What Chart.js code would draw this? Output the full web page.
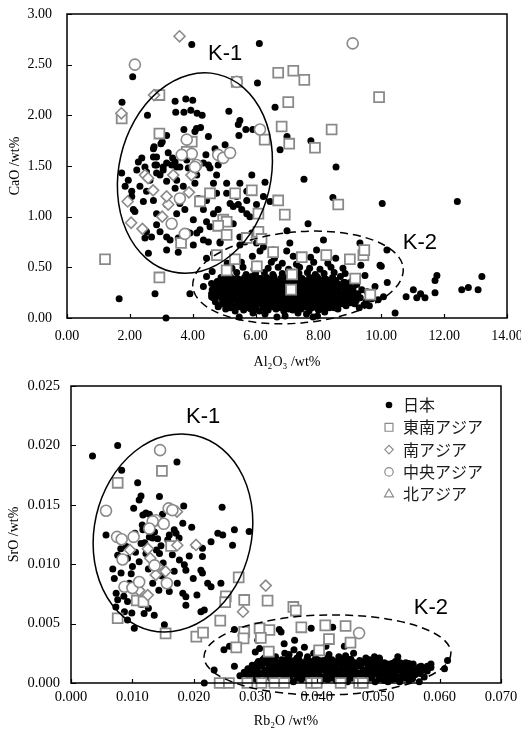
<!DOCTYPE html>
<html><head><meta charset="utf-8">
<script src="https://cdn.jsdelivr.net/npm/chart.js@4.4.1/dist/chart.umd.min.js"></script>
<style>html,body{margin:0;padding:0;background:#fff;}canvas{display:block;}</style>
</head><body>
<canvas id="c1" width="521" height="375"></canvas>
<canvas id="c2" width="521" height="355"></canvas>
<script>
// ---------- series names ----------
const seriesNames = ['日本', '東南アジア', '南アジア', '中央アジア', '北アジア'];

// ---------- top chart: Al2O3 (x) vs CaO (y), wt% ----------
const xTicksTop = [0, 2, 4, 6, 8, 10, 12, 14];
const yTicksTop = [0, 0.5, 1, 1.5, 2, 2.5, 3];

const japanAlCa = [
[3.97,2.70],[6.12,2.71],[2.09,2.38],[1.75,2.13],[2.56,2.00],[3.44,2.14],[3.78,2.16],[4.00,2.15],[3.46,2.03],[3.72,2.03],
[3.94,2.05],[4.14,2.02],[4.30,2.00],[5.15,2.04],[5.50,1.95],[5.45,1.91],[5.69,1.86],[5.91,1.86],[5.47,1.80],[6.06,2.32],
[6.62,2.08],[6.78,1.66],[3.72,1.86],[4.07,1.84],[4.25,1.88],[3.17,1.80],[4.50,1.79],[2.99,1.72],[2.75,1.67],[2.85,1.59],
[3.22,1.63],[2.38,1.58],[3.36,1.58],[4.71,1.67],[5.03,1.71],[4.42,1.61],[4.81,1.51],[4.50,1.51],[2.22,1.46],[2.48,1.49],
[3.06,1.49],[3.49,1.49],[3.86,1.48],[7.00,1.79],[7.76,1.75],[8.56,1.49],[7.54,1.37],
[2.27,1.54],[2.85,1.51],[3.17,1.53],[3.44,1.54],[3.81,1.56],[4.34,1.53],[4.55,1.48],[4.13,1.41],[4.76,1.41],[4.07,1.33],
[2.96,1.41],[3.17,1.35],[3.49,1.36],[2.64,1.36],[2.32,1.30],[2.06,1.25],[2.53,1.25],[3.44,1.28],[3.70,1.30],[4.66,1.33],
[4.76,1.23],[4.44,1.16],[5.08,1.23],[4.18,1.18],[3.59,1.13],[3.17,1.12],[2.75,1.16],[2.43,1.15],[2.06,1.20],[2.85,1.03],
[3.49,1.03],[3.75,1.07],[4.02,0.97],[4.34,1.07],[4.44,0.95],[4.81,1.07],[5.29,1.10],[5.56,1.07],[5.72,1.03],[6.03,1.12],
[5.29,0.93],[2.85,0.92],[2.53,0.85],[2.96,0.85],[3.17,0.80],[2.69,0.80],[2.48,0.79],[3.28,0.77],[3.54,0.79],[3.81,0.85],
[4.13,0.84],[4.34,0.77],[4.50,0.75],[3.54,0.65],[3.17,0.67],[2.59,0.64],[4.02,0.72],[4.66,0.64],[5.50,0.72],[6.25,0.70],
[5.88,0.84],[5.66,0.75],[6.03,0.74],[5.40,1.20],[5.72,1.25],[6.25,1.20],[6.46,1.15],[5.72,1.16],[5.08,1.33],[5.50,1.33],
[5.88,1.41],[6.30,1.34],[1.74,1.43],[1.95,1.36],[1.85,1.30],[2.11,1.07],[2.16,1.05],[2.53,1.44],[2.80,1.51],[2.85,1.43],
[3.06,1.46],[2.75,1.59],[2.77,1.69],[3.03,1.74],[3.33,1.51],[3.59,1.49],[3.75,1.77],[4.12,1.87],
[4.66,1.03],[5.19,1.13],[5.45,1.12],[5.82,1.00],[4.87,0.93],[4.55,0.90],[4.23,0.87],[3.91,0.84],[4.87,0.75],[5.50,0.80],
[1.66,0.19],[2.80,0.24],[3.15,0.00],[3.91,0.24],[8.46,1.19],[10.03,1.13],[12.42,1.15],[10.00,0.51],[10.19,0.35],[10.44,0.05],
[10.79,0.21],[11.02,0.28],[11.13,0.20],[11.25,0.24],[11.39,0.20],[11.71,0.25],[11.71,0.37],[11.77,0.42],[12.56,0.28],[12.77,0.30],
[13.08,0.28],[13.20,0.41],[10.18,0.67],[7.67,0.93],[7.00,0.86],[9.96,0.52],[9.48,0.42],[9.80,0.31],[10.07,0.21],[9.90,0.18],
[9.32,0.74],[4.87,0.74],[4.44,0.59],[4.44,0.41],[4.34,0.31],[4.60,0.34],[4.60,0.21],[4.81,0.11],[4.62,0.46],
[5.48,0.01],[5.92,0.05],[6.30,0.04],[6.68,0.01],[6.94,0.02],[7.35,0.05],[7.62,0.04],[7.83,0.01],[7.97,0.02],[8.20,0.06],
[5.05,0.09],[5.35,0.07],[5.62,0.08],[5.85,0.09],[6.12,0.07],[6.40,0.08],[6.65,0.09],[6.90,0.07],[7.18,0.08],[7.45,0.09],
[7.70,0.07],[8.00,0.08],[8.35,0.10],[8.62,0.09],[9.30,0.10],[9.62,0.12],
[5.20,0.10],[5.48,0.11],[5.72,0.10],[6.00,0.09],[6.28,0.10],[6.55,0.11],[6.80,0.10],[7.05,0.09],[7.30,0.10],[7.55,0.11],
[7.80,0.10],[8.05,0.09],[8.25,0.11],[8.50,0.10],
[4.82,0.12],[5.10,0.13],[5.30,0.11],[5.55,0.12],[5.78,0.13],[6.00,0.11],[6.22,0.12],[6.48,0.13],[6.70,0.11],[6.92,0.12],
[7.15,0.13],[7.40,0.11],[7.62,0.12],[7.88,0.13],[8.10,0.11],[8.35,0.12],[8.60,0.13],[8.88,0.12],[9.15,0.14],[9.45,0.13],
[4.95,0.14],[5.20,0.15],[5.45,0.14],[5.68,0.13],[5.92,0.14],[6.15,0.15],[6.38,0.14],[6.60,0.13],[6.82,0.14],[7.05,0.15],
[7.28,0.14],[7.52,0.13],[7.75,0.14],[7.98,0.15],[8.22,0.14],[8.48,0.13],[8.75,0.14],[9.02,0.15],
[4.72,0.16],[4.95,0.17],[5.20,0.15],[5.42,0.16],[5.63,0.17],[5.88,0.15],[6.10,0.16],[6.32,0.17],[6.55,0.15],[6.78,0.16],
[7.00,0.17],[7.22,0.15],[7.48,0.16],[7.70,0.17],[7.92,0.15],[8.15,0.16],[8.40,0.17],[8.65,0.15],[8.92,0.16],[9.20,0.17],[9.52,0.16],
[5.00,0.18],[5.25,0.19],[5.50,0.18],[5.72,0.17],[5.95,0.18],[6.20,0.19],[6.42,0.18],[6.65,0.17],[6.88,0.18],[7.10,0.19],
[7.35,0.18],[7.58,0.17],[7.80,0.18],[8.05,0.19],[8.28,0.18],[8.52,0.17],[8.78,0.18],[9.08,0.19],
[4.65,0.20],[4.88,0.21],[5.12,0.19],[5.35,0.20],[5.58,0.21],[5.80,0.19],[6.02,0.20],[6.25,0.21],[6.50,0.19],[6.72,0.20],
[6.95,0.21],[7.18,0.19],[7.40,0.20],[7.65,0.21],[7.88,0.19],[8.10,0.20],[8.33,0.21],[8.58,0.19],[8.80,0.20],[9.05,0.21],[9.33,0.20],[9.70,0.19],
[4.75,0.22],[5.00,0.23],[5.22,0.22],[5.45,0.21],[5.70,0.22],[5.92,0.23],[6.15,0.22],[6.38,0.21],[6.60,0.22],[6.85,0.23],
[7.08,0.22],[7.30,0.21],[7.52,0.22],[7.75,0.23],[7.98,0.22],[8.22,0.21],[8.45,0.22],[8.70,0.23],[8.92,0.22],[9.18,0.21],
[4.60,0.24],[4.85,0.25],[5.05,0.23],[5.28,0.24],[5.50,0.25],[5.72,0.23],[5.95,0.24],[6.18,0.25],[6.42,0.23],[6.65,0.24],
[6.88,0.25],[7.10,0.23],[7.35,0.24],[7.58,0.25],[7.80,0.23],[8.02,0.24],[8.28,0.25],[8.50,0.23],[8.75,0.24],[9.00,0.25],[9.25,0.24],[9.55,0.26],
[4.75,0.26],[4.98,0.27],[5.20,0.26],[5.42,0.25],[5.65,0.26],[5.88,0.27],[6.10,0.26],[6.32,0.25],[6.55,0.26],[6.78,0.27],
[7.00,0.26],[7.22,0.25],[7.48,0.26],[7.70,0.27],[7.92,0.26],[8.15,0.25],[8.40,0.26],[8.62,0.27],[8.88,0.26],[9.12,0.25],
[4.62,0.28],[4.90,0.29],[5.15,0.27],[5.38,0.28],[5.60,0.29],[5.85,0.27],[6.08,0.28],[6.30,0.29],[6.52,0.27],[6.75,0.28],
[6.98,0.29],[7.22,0.27],[7.45,0.28],[7.68,0.29],[7.90,0.27],[8.15,0.28],[8.38,0.29],[8.62,0.27],[8.85,0.28],[9.10,0.29],[9.38,0.28],
[4.80,0.30],[5.05,0.31],[5.28,0.30],[5.50,0.29],[5.72,0.30],[5.98,0.31],[6.20,0.30],[6.42,0.29],[6.65,0.30],[6.88,0.31],
[7.10,0.30],[7.35,0.29],[7.58,0.30],[7.80,0.31],[8.02,0.30],[8.28,0.29],[8.50,0.30],[8.75,0.31],[9.00,0.30],
[4.70,0.32],[4.95,0.33],[5.22,0.31],[5.45,0.32],[5.68,0.33],[5.90,0.31],[6.12,0.32],[6.38,0.33],[6.60,0.31],[6.82,0.32],
[7.05,0.33],[7.28,0.31],[7.52,0.32],[7.75,0.33],[7.98,0.31],[8.22,0.32],[8.45,0.33],[8.70,0.31],[8.95,0.32],[9.22,0.33],
[4.88,0.34],[5.12,0.35],[5.35,0.34],[5.58,0.33],[5.80,0.34],[6.05,0.35],[6.28,0.34],[6.50,0.33],[6.72,0.34],[6.95,0.35],
[7.18,0.34],[7.42,0.33],[7.65,0.34],[7.88,0.35],[8.12,0.34],[8.35,0.33],[8.60,0.34],[8.85,0.35],
[4.78,0.36],[5.05,0.37],[5.30,0.35],[5.52,0.36],[5.75,0.37],[6.00,0.35],[6.22,0.36],[6.45,0.37],[6.68,0.35],[6.90,0.36],
[7.12,0.37],[7.35,0.35],[7.58,0.36],[7.82,0.37],[8.05,0.35],[8.30,0.36],[8.55,0.37],[8.80,0.35],[9.05,0.36],
[5.00,0.38],[5.25,0.39],[5.48,0.38],[5.70,0.37],[5.95,0.38],[6.18,0.39],[6.40,0.38],[6.62,0.37],[6.85,0.38],[7.08,0.39],
[7.30,0.38],[7.55,0.37],[7.78,0.38],[8.00,0.39],[8.25,0.38],[8.50,0.37],
[4.90,0.40],[5.18,0.41],[5.42,0.39],[5.65,0.40],[5.88,0.41],[6.12,0.39],[6.35,0.40],[6.58,0.41],[6.80,0.39],[7.02,0.40],
[7.25,0.41],[7.48,0.39],[7.72,0.40],[7.95,0.41],[8.20,0.39],[8.45,0.40],[8.70,0.41],
[5.05,0.44],[5.40,0.45],[5.70,0.43],[6.00,0.44],[6.28,0.45],[6.55,0.43],[6.85,0.44],[7.10,0.46],[7.38,0.44],[7.65,0.45],
[7.90,0.43],[8.18,0.44],[8.50,0.45],[8.85,0.44],
[5.25,0.49],[5.60,0.50],[5.95,0.48],[6.40,0.49],[6.72,0.50],[7.05,0.48],[7.40,0.50],[7.72,0.49],[8.05,0.48],[8.40,0.50],[8.78,0.49],
[5.10,0.54],[5.55,0.55],[6.05,0.53],[6.50,0.55],[6.85,0.54],[7.30,0.53],[7.85,0.55],[8.30,0.54],[9.35,0.52],
[5.30,0.60],[5.90,0.61],[6.60,0.59],[7.20,0.61],[7.75,0.60],[8.55,0.59],
[6.14,0.66],[6.56,0.67],[6.99,0.66],[7.94,0.67],[7.09,0.74],[8.16,0.77]
];
const seAsiaAlCa = [
[1.74,1.97],[2.94,2.20],[2.94,1.82],[3.97,1.74],[3.81,1.64],[5.40,2.33],[6.72,2.42],[7.20,2.44],[7.55,2.35],[7.04,2.13],
[9.93,2.18],[6.83,1.89],[6.29,1.76],[7.07,1.72],[8.42,1.86],[7.89,1.68],[4.55,1.23],[4.23,1.15],[5.35,1.23],[5.88,1.26],
[6.72,1.16],[6.93,1.02],[6.09,1.03],[4.97,0.97],[5.08,0.95],[4.81,0.91],[5.08,0.82],[5.72,0.79],[6.09,0.85],[6.19,0.78],
[6.56,0.65],[4.77,0.62],[5.34,0.58],[6.04,0.51],[5.08,0.47],[3.63,0.74],[1.21,0.58],[2.94,0.40],[8.63,1.12],[7.47,0.60],
[8.25,0.62],[9.00,0.58],[9.43,0.62],[9.46,0.67],[7.16,0.43],[7.13,0.28],[9.17,0.39],[9.65,0.23]
];
const sAsiaAlCa = [
[3.58,2.78],[2.77,2.20],[1.73,2.02],[2.48,1.41],[2.58,1.38],[3.38,1.41],[3.96,1.41],[2.74,1.26],[1.93,1.15],[3.22,1.12],
[3.88,1.24],[3.03,1.00],[2.04,0.94],[2.40,0.88],[3.17,1.20]
];
const cAsiaAlCa = [
[2.16,2.50],[5.40,2.33],[9.09,2.71],[6.14,1.86],[3.81,1.76],[3.97,1.62],[3.65,1.61],[4.12,1.51],[4.81,1.61],[4.97,1.58],
[5.19,1.63],[4.07,1.49],[3.59,1.18],[3.33,0.93],[3.75,0.83]
];
const nAsiaAlCa = [];

// ---------- bottom chart: Rb2O (x) vs SrO (y), wt% ----------
const xTicksBot = [0, 0.01, 0.02, 0.03, 0.04, 0.05, 0.06, 0.07];
const yTicksBot = [0, 0.005, 0.01, 0.015, 0.02, 0.025];

const japanRbSr = [
[0.0035,0.0191],[0.0076,0.0200],[0.00825,0.0179],[0.01725,0.0186],[0.01085,0.01685],[0.0114,0.01575],[0.0111,0.0154],[0.0144,0.0157],
[0.0102,0.0147],[0.0117,0.01415],[0.0122,0.0143],[0.01275,0.0142],[0.0149,0.0142],[0.01835,0.0149],[0.0246,0.0148],[0.0057,0.01245],
[0.0117,0.0129],[0.01275,0.0123],[0.0133,0.0122],[0.0141,0.01215],[0.0160,0.01245],[0.0168,0.0129],[0.0171,0.0126],[0.0182,0.01345],
[0.01965,0.0131],[0.0239,0.0126],[0.0247,0.01245],[0.0266,0.0129],[0.0290,0.01275],[0.0228,0.0119],[0.0214,0.01135],[0.0263,0.0116],
[0.0176,0.0122],[0.01925,0.0107],[0.0114,0.01175],[0.01465,0.01155],[0.01575,0.01205],
[0.00705,0.0088],[0.00735,0.00755],[0.0076,0.0070],[0.0092,0.00685],[0.0087,0.0060],[0.0092,0.0053],[0.0103,0.0046],[0.0119,0.00585],
[0.01355,0.0057],[0.0152,0.0049],[0.0106,0.00785],[0.0095,0.0084],[0.00815,0.00925],[0.0076,0.01075],[0.0092,0.0105],[0.0100,0.0098],
[0.0111,0.0102],[0.0122,0.0109],[0.0144,0.0109],[0.0160,0.0077],[0.0157,0.00855],[0.0171,0.0115],[0.01765,0.01035],[0.01845,0.00995],
[0.0187,0.0095],[0.0182,0.00755],[0.0187,0.00725],[0.02115,0.0095],[0.0214,0.00925],[0.02225,0.0084],[0.0228,0.0081],[0.0187,0.00655],
[0.02115,0.0060],[0.0217,0.00615],[0.0244,0.0084],[0.0201,0.0116],[0.0214,0.01065],
[0.0090,0.0115],[0.0105,0.0110],[0.0120,0.0118],[0.0130,0.0104],[0.0139,0.0112],[0.0150,0.0101],[0.0165,0.0108],[0.0098,0.0092],
[0.0126,0.0096],[0.0148,0.0090],[0.0168,0.0094],[0.0104,0.0126],[0.0136,0.0127],[0.0116,0.0133],[0.0081,0.0113],[0.0068,0.0096],
[0.0086,0.0073],[0.0115,0.0066],[0.0143,0.0078],[0.0173,0.0084],[0.0199,0.0088],[0.0205,0.0074],[0.0133,0.0084],[0.0073,0.0064],
[0.0099,0.0059],[0.0126,0.0063],
[0.0217,0.0000],[0.0233,0.0011],[0.0249,0.0028],[0.0258,0.0031],[0.0266,0.0045],[0.0277,0.0040],[0.0266,0.0014],[0.0307,0.0029],
[0.0304,0.0036],[0.0300,0.0026],[0.0339,0.0045],[0.0342,0.0043],[0.0347,0.0033],[0.0355,0.0024],[0.0363,0.0028],[0.0364,0.0036],
[0.0380,0.0030],[0.0391,0.0046],[0.0400,0.0027],[0.0415,0.0031],[0.0426,0.0047],[0.0445,0.0031],[0.0460,0.0025],[0.0494,0.0022],
[0.0502,0.0021],[0.0532,0.0022],[0.0586,0.0016],[0.0613,0.0019],[0.0608,0.0012],[0.0567,0.0001],[0.0516,0.0001],
[0.0348,0.0002],[0.0362,0.0001],[0.0375,0.0003],[0.0392,0.0002],[0.0405,0.0001],[0.0418,0.0003],[0.0432,0.0002],[0.0450,0.0001],
[0.0465,0.0003],[0.0480,0.0002],[0.0495,0.0001],[0.0510,0.0002],[0.0522,0.0003],[0.0535,0.0001],[0.0550,0.0002],
[0.0300,0.00035],[0.0325,0.0004],[0.0352,0.00035],[0.0368,0.0004],[0.0385,0.00035],[0.0399,0.0004],[0.0412,0.00035],[0.0425,0.0004],
[0.0440,0.00035],[0.0457,0.0004],[0.0472,0.00035],[0.0487,0.0004],[0.0502,0.00035],[0.0516,0.0004],[0.0528,0.00035],[0.0542,0.0004],[0.0556,0.00035],
[0.0275,0.0006],[0.0290,0.0005],[0.0305,0.0007],[0.0318,0.0006],[0.0332,0.0005],[0.0345,0.0007],[0.0357,0.0006],[0.0370,0.0005],
[0.0383,0.0007],[0.0396,0.0006],[0.0410,0.0005],[0.0422,0.0007],[0.0436,0.0006],[0.0448,0.0005],[0.0462,0.0006],[0.0476,0.0007],
[0.0490,0.0005],[0.0504,0.0006],[0.0518,0.0007],[0.0532,0.0005],[0.0547,0.0006],[0.0560,0.0007],[0.0575,0.0005],
[0.0283,0.00075],[0.0297,0.0008],[0.0311,0.00075],[0.0325,0.0007],[0.0338,0.00075],[0.0351,0.0008],[0.0364,0.00075],[0.0377,0.0007],
[0.0390,0.00075],[0.0403,0.0008],[0.0416,0.00075],[0.0429,0.0007],[0.0442,0.00075],[0.0455,0.0008],[0.0469,0.00075],[0.0483,0.0007],
[0.0497,0.00075],[0.0511,0.0008],[0.0525,0.00075],[0.0540,0.0007],[0.0554,0.00075],[0.0568,0.0008],
[0.0282,0.0009],[0.0296,0.0010],[0.0310,0.0008],[0.0325,0.0009],[0.0338,0.0010],[0.0350,0.0008],[0.0363,0.0009],[0.0377,0.0010],
[0.0390,0.0008],[0.0403,0.0009],[0.0416,0.0010],[0.0429,0.0008],[0.0442,0.0009],[0.0455,0.0010],[0.0469,0.0008],[0.0483,0.0009],
[0.0497,0.0010],[0.0511,0.0008],[0.0525,0.0009],[0.0539,0.0010],[0.0553,0.0008],[0.0567,0.0009],[0.0580,0.0010],
[0.0289,0.00105],[0.0303,0.0011],[0.0317,0.00105],[0.0331,0.001],[0.0344,0.00105],[0.0357,0.0011],[0.0370,0.00105],[0.0383,0.001],
[0.0396,0.00105],[0.0409,0.0011],[0.0423,0.00105],[0.0436,0.001],[0.0449,0.00105],[0.0462,0.0011],[0.0476,0.00105],[0.0490,0.001],
[0.0504,0.00105],[0.0518,0.0011],[0.0532,0.00105],[0.0546,0.001],[0.0560,0.00105],[0.0573,0.0011],
[0.0288,0.0012],[0.0302,0.0013],[0.0316,0.0011],[0.0330,0.0012],[0.0343,0.0013],[0.0356,0.0011],[0.0369,0.0012],[0.0382,0.0013],
[0.0395,0.0011],[0.0408,0.0012],[0.0421,0.0013],[0.0435,0.0011],[0.0449,0.0012],[0.0463,0.0013],[0.0477,0.0011],[0.0491,0.0012],
[0.0505,0.0013],[0.0519,0.0011],[0.0533,0.0012],[0.0546,0.0013],[0.0560,0.0011],[0.0574,0.0012],[0.0586,0.0013],
[0.0295,0.00135],[0.0309,0.0014],[0.0323,0.00135],[0.0337,0.0013],[0.0350,0.00135],[0.0363,0.0014],[0.0376,0.00135],[0.0389,0.0013],
[0.0402,0.00135],[0.0415,0.0014],[0.0428,0.00135],[0.0442,0.0013],[0.0456,0.00135],[0.0470,0.0014],[0.0484,0.00135],[0.0498,0.0013],
[0.0512,0.00135],[0.0526,0.0014],[0.0540,0.00135],[0.0553,0.0013],[0.0567,0.00135],[0.0580,0.0014],
[0.0295,0.0015],[0.0312,0.0016],[0.0326,0.0014],[0.0340,0.0015],[0.0353,0.0016],[0.0366,0.0014],[0.0379,0.0015],[0.0392,0.0016],
[0.0405,0.0014],[0.0418,0.0015],[0.0431,0.0016],[0.0445,0.0014],[0.0459,0.0015],[0.0473,0.0016],[0.0487,0.0014],[0.0501,0.0015],
[0.0515,0.0016],[0.0529,0.0014],[0.0543,0.0015],[0.0557,0.0016],[0.0570,0.0014],
[0.0303,0.00165],[0.0319,0.0017],[0.0333,0.00165],[0.0346,0.0016],[0.0360,0.00165],[0.0373,0.0017],[0.0386,0.00165],[0.0398,0.0016],
[0.0411,0.00165],[0.0425,0.0017],[0.0438,0.00165],[0.0452,0.0016],[0.0466,0.00165],[0.0480,0.0017],[0.0494,0.00165],[0.0508,0.0016],
[0.0522,0.00165],[0.0536,0.0017],[0.0550,0.00165],
[0.0305,0.0018],[0.0322,0.0019],[0.0336,0.0017],[0.0350,0.0018],[0.0364,0.0019],[0.0377,0.0017],[0.0390,0.0018],[0.0404,0.0019],
[0.0418,0.0017],[0.0432,0.0018],[0.0447,0.0019],[0.0462,0.0017],[0.0478,0.0018],[0.0494,0.0019],[0.0510,0.0017],[0.0528,0.0018],[0.0545,0.0017],
[0.0312,0.00195],[0.0328,0.002],[0.0343,0.00195],[0.0357,0.0019],[0.0371,0.00195],[0.0384,0.002],[0.0397,0.00195],[0.0411,0.0019],
[0.0425,0.00195],[0.0440,0.002],[0.0456,0.00195],[0.0470,0.0019],[0.0486,0.00195],[0.0502,0.002],
[0.0315,0.0021],[0.0333,0.0022],[0.0352,0.0020],[0.0368,0.0021],[0.0385,0.0022],[0.0400,0.0020],[0.0418,0.0021],[0.0436,0.0022],
[0.0455,0.0020],[0.0480,0.0021],
[0.0325,0.0024],[0.0348,0.0025],[0.0372,0.0024],[0.0395,0.0025],[0.0420,0.0024],[0.0447,0.0023]
];
const seAsiaRbSr = [
[0.0076,0.01685],[0.0148,0.01785],[0.0076,0.00545],[0.0107,0.00695],[0.0118,0.00685],[0.0154,0.00418],[0.0273,0.00889],[0.0252,0.0073],
[0.0251,0.0068],[0.0282,0.00699],[0.0320,0.00693],[0.0243,0.00525],[0.0204,0.0039],[0.0215,0.00424],[0.0282,0.0043],[0.0281,0.00376],
[0.0307,0.0046],[0.0323,0.00446],[0.0309,0.0038],[0.0269,0.0030],[0.0322,0.00264],[0.0362,0.0064],[0.0366,0.0061],[0.0375,0.00469],
[0.0414,0.00485],[0.0420,0.0037],[0.0404,0.00275],[0.0447,0.0048],[0.0455,0.0034],[0.0163,0.01153],
[0.0242,0],[0.0257,0],[0.0287,0],[0.0310,0],[0.0331,0],[0.0347,0],[0.0391,0],[0.0400,0],[0.0439,0],[0.0469,0],[0.0475,0]
];
const sAsiaRbSr = [
[0.0096,0.0112],[0.0125,0.0113],[0.0173,0.0116],[0.02035,0.01162],[0.0129,0.0105],[0.0141,0.0098],[0.0154,0.0094],[0.0111,0.0078],
[0.0125,0.0074],[0.0317,0.0082],[0.0280,0.0060],[0.01725,0.01442],[0.0138,0.0091]
];
const cAsiaRbSr = [
[0.0145,0.0196],[0.0057,0.0145],[0.0159,0.0147],[0.0165,0.01455],[0.0138,0.0137],[0.0133,0.0136],[0.0151,0.0134],[0.01275,0.0130],
[0.0075,0.0123],[0.00825,0.0121],[0.0102,0.0123],[0.0084,0.0104],[0.0087,0.0081],[0.0100,0.0080],[0.0111,0.0085],[0.0156,0.0084],
[0.0136,0.0099],[0.0469,0.0042]
];
const nAsiaRbSr = [];

// ---------- styling ----------
const GRAY = '#8a8a8a';
const markerStyles = [
  {pointStyle:'circle', pointRadius:3.5, backgroundColor:'#000', borderColor:'#000', borderWidth:0, order:10},
  {pointStyle:'rect', pointRadius:7, backgroundColor:'#fff', borderColor:GRAY, borderWidth:1.8, order:4},
  {pointStyle:'rectRot', pointRadius:5.5, backgroundColor:'#fff', borderColor:GRAY, borderWidth:1.6, order:3},
  {pointStyle:'circle', pointRadius:5.5, backgroundColor:'#fff', borderColor:GRAY, borderWidth:1.6, order:2},
  {pointStyle:'triangle', pointRadius:5.5, backgroundColor:'#fff', borderColor:GRAY, borderWidth:1.6, order:1}
];
function buildDatasets(seriesList) {
  return seriesList.map((arr, i) => Object.assign({
    label: seriesNames[i],
    data: arr.map(p => ({x: p[0], y: p[1]})),
    clip: false,
    pointHoverRadius: markerStyles[i].pointRadius
  }, markerStyles[i]));
}

const serif = "'Liberation Serif', 'Times New Roman', serif";
const legendRadius = [3.3, 5.6, 4.2, 4.2, 5.2];

const decorPlugin = {
  id: 'decor',
  afterDatasetsDraw(chart, args, o) {
    const {ctx} = chart;
    const xs = chart.scales.x, ys = chart.scales.y;
    ctx.save();
    ctx.strokeStyle = '#000';
    ctx.lineWidth = 1.5;
    (o.ellipses || []).forEach(e => {
      const cx = xs.getPixelForValue(e.cx), cy = ys.getPixelForValue(e.cy);
      const rx = Math.abs(xs.getPixelForValue(e.cx + e.rx) - cx);
      const ry = Math.abs(ys.getPixelForValue(e.cy + e.ry) - cy);
      ctx.beginPath();
      ctx.setLineDash(e.dash);
      ctx.ellipse(cx, cy, rx, ry, e.rot * Math.PI / 180, 0, Math.PI * 2);
      ctx.stroke();
    });
    ctx.setLineDash([]);
    ctx.font = "22px 'Liberation Sans', Arial, sans-serif";
    ctx.fillStyle = '#000';
    ctx.textAlign = 'center';
    ctx.textBaseline = 'middle';
    (o.labels || []).forEach(l => ctx.fillText(l.t, xs.getPixelForValue(l.x), ys.getPixelForValue(l.y)));
    ctx.restore();
  },
  afterDraw(chart, args, o) {
    const {ctx, chartArea: a} = chart;
    const xs = chart.scales.x, ys = chart.scales.y;
    ctx.save();
    ctx.strokeStyle = '#000';
    ctx.lineWidth = 1.5;
    ctx.strokeRect(a.left, a.top, a.right - a.left, a.bottom - a.top);
    ctx.beginPath();
    xs.ticks.forEach(t => { const p = Math.round(xs.getPixelForValue(t.value)) + 0.5; ctx.moveTo(p, a.bottom); ctx.lineTo(p, a.bottom - 4); });
    ys.ticks.forEach(t => { const p = Math.round(ys.getPixelForValue(t.value)) + 0.5; ctx.moveTo(a.left, p); ctx.lineTo(a.left + 5, p); });
    ctx.lineWidth = 1.2;
    ctx.stroke();
    if (o.legend) {
      const mx = a.right - 112, tx = a.right - 98;
      ctx.font = "16px 'Noto Sans CJK JP', sans-serif";
      ctx.textAlign = 'left';
      ctx.textBaseline = 'middle';
      chart.data.datasets.forEach((ds, i) => {
        const y = a.top + 19 + i * 22.3;
        ctx.fillStyle = ds.backgroundColor;
        ctx.strokeStyle = ds.borderColor;
        ctx.lineWidth = 1.2;
        Chart.helpers.drawPoint(ctx, {pointStyle: ds.pointStyle, radius: legendRadius[i], rotation: 0, borderWidth: i === 0 ? 0 : 1.2}, mx, y);
        ctx.fillStyle = '#1a1a1a';
        ctx.fillText(ds.label, tx, y);
      });
    }
    ctx.restore();
  }
};

function axis(min, max, step, dec, title, tickPad, titlePad, fit, fontSize) {
  return {
    type: 'linear', min, max,
    ticks: {stepSize: step, autoSkip: false, maxRotation: 0, padding: tickPad, color: '#000',
            font: {family: serif, size: fontSize}, callback: v => Number(v).toFixed(dec)},
    grid: {display: false, drawTicks: false},
    border: {display: false},
    title: {display: true, text: title, color: '#000', font: {family: serif, size: 14}, padding: titlePad},
    afterFit: fit
  };
}

Chart.defaults.animation = false;

new Chart(document.getElementById('c1'), {
  type: 'scatter',
  data: {datasets: buildDatasets([japanAlCa, seAsiaAlCa, sAsiaAlCa, cAsiaAlCa, nAsiaAlCa])},
  plugins: [decorPlugin],
  options: {
    responsive: false, animation: false,
    layout: {padding: {left: 0, top: 14, right: 14, bottom: 0}},
    plugins: {legend: {display: false}, tooltip: {enabled: false},
      decor: {
        ellipses: [{cx: 4.07, cy: 1.43, rx: 2.42, ry: 1.0, rot: 13, dash: []},
                   {cx: 7.35, cy: 0.40, rx: 3.36, ry: 0.45, rot: -5, dash: [8, 5]}],
        labels: [{t: 'K-1', x: 5.03, y: 2.61}, {t: 'K-2', x: 11.23, y: 0.74}],
        legend: false
      }},
    scales: {
      x: axis(xTicksTop[0], xTicksTop[xTicksTop.length - 1], xTicksTop[1] - xTicksTop[0], 2, 'Al₂O₃ /wt%', 10, {top: 0, bottom: 4.6},
              s => { s.height = 57; s.paddingLeft = 0; s.paddingRight = 0; }, 14),
      y: axis(yTicksTop[0], yTicksTop[yTicksTop.length - 1], yTicksTop[1] - yTicksTop[0], 2, 'CaO /wt%', 15, {top: 6.6, bottom: 0},
              s => { s.width = 67; s.paddingTop = 0; s.paddingBottom = 0; }, 14)
    }
  }
});

new Chart(document.getElementById('c2'), {
  type: 'scatter',
  data: {datasets: buildDatasets([japanRbSr, seAsiaRbSr, sAsiaRbSr, cAsiaRbSr, nAsiaRbSr])},
  plugins: [decorPlugin],
  options: {
    responsive: false, animation: false,
    layout: {padding: {left: 0, top: 11, right: 20, bottom: 0}},
    plugins: {legend: {display: false}, tooltip: {enabled: false},
      decor: {
        ellipses: [{cx: 0.0166, cy: 0.01263, rx: 0.0128, ry: 0.00842, rot: 13, dash: []},
                   {cx: 0.04175, cy: 0.00236, rx: 0.0201, ry: 0.00337, rot: -1, dash: [8, 5]}],
        labels: [{t: 'K-1', x: 0.0215, y: 0.0224}, {t: 'K-2', x: 0.0586, y: 0.0063}],
        legend: true
      }},
    scales: {
      x: axis(xTicksBot[0], xTicksBot[xTicksBot.length - 1], 0.01, 3, 'Rb₂O /wt%', 5.5, {top: 0, bottom: 0},
              s => { s.height = 47; s.paddingLeft = 0; s.paddingRight = 0; }, 14.5),
      y: axis(yTicksBot[0], yTicksBot[yTicksBot.length - 1], 0.005, 3, 'SrO /wt%', 11, {top: 6, bottom: 0},
              s => { s.width = 71; s.paddingTop = 0; s.paddingBottom = 0; }, 14.5)
    }
  }
});
</script>
</body></html>
